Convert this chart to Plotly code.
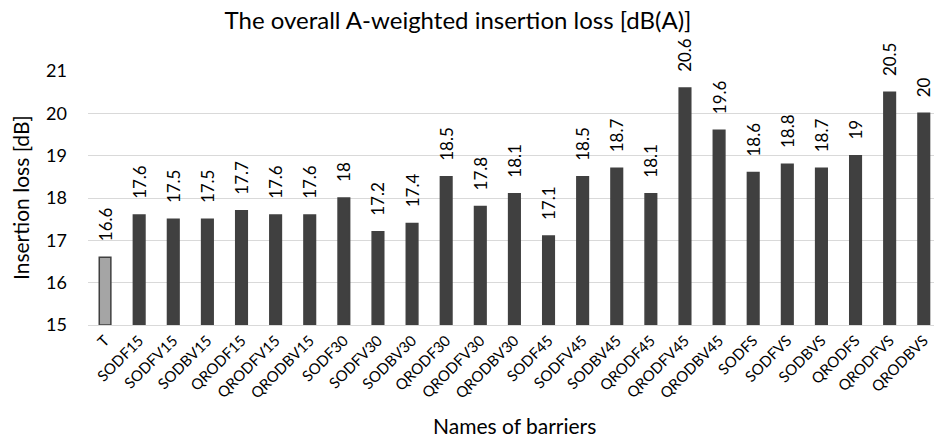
import plotly.graph_objects as go

categories = ["T", "SODF15", "SODFV15", "SODBV15", "QRODF15", "QRODFV15", "QRODBV15",
              "SODF30", "SODFV30", "SODBV30", "QRODF30", "QRODFV30", "QRODBV30",
              "SODF45", "SODFV45", "SODBV45", "QRODF45", "QRODFV45", "QRODBV45",
              "SODFS", "SODFVS", "SODBVS", "QRODFS", "QRODFVS", "QRODBVS"]
values = [16.6, 17.6, 17.5, 17.5, 17.7, 17.6, 17.6,
          18.0, 17.2, 17.4, 18.5, 17.8, 18.1,
          17.1, 18.5, 18.7, 18.1, 20.6, 19.6,
          18.6, 18.8, 18.7, 19.0, 20.5, 20.0]
labels = ["16.6", "17.6", "17.5", "17.5", "17.7", "17.6", "17.6",
          "18", "17.2", "17.4", "18.5", "17.8", "18.1",
          "17.1", "18.5", "18.7", "18.1", "20.6", "19.6",
          "18.6", "18.8", "18.7", "19", "20.5", "20"]
y_ticks = [15, 16, 17, 18, 19, 20, 21]
BASE = 15

FONT = "Lato"
colors = ["#A5A5A5"] + ["#404040"] * (len(categories) - 1)

fig = go.Figure()
fig.add_trace(go.Bar(
    x=categories, y=[v - BASE for v in values], base=BASE,
    marker=dict(color=colors, line=dict(color="#404040", width=1.5)),
    text=labels, texttemplate="\u00a0\u00a0\u00a0%{text}",
    textposition="outside", textangle=-90,
    constraintext="none",
    textfont=dict(family=FONT, size=17, color="#000000"),
    cliponaxis=False, hoverinfo="skip",
))

fig.update_layout(
    width=934, height=441,
    margin=dict(l=88, r=0, t=71, b=116, autoexpand=False),
    paper_bgcolor="white", plot_bgcolor="white",
    bargap=0.66,
    showlegend=False,
    font=dict(family=FONT, color="#000000"),
    title=dict(text="The overall A-weighted insertion loss [dB(A)]",
               x=458 / 934, xanchor="center", y=1 - 21 / 441, yanchor="middle",
               font=dict(family=FONT, size=24, color="#000000")),
)
fig.update_xaxes(
    type="category", range=[-0.5, 24.3], automargin=False,
    tickangle=-45, tickfont=dict(family=FONT, size=15, color="#000000"),
    showline=True, linecolor="#D9D9D9", linewidth=1,
    showgrid=False, ticks="",
)
fig.update_yaxes(
    range=[15, 21], tickvals=y_ticks, ticktext=[str(t) for t in y_ticks],
    automargin=False,
    tickfont=dict(family=FONT, size=18, color="#000000"),
    showgrid=True, gridcolor="#D9D9D9", gridwidth=1,
    zeroline=False, showline=False, ticks="",
    ticklabelstandoff=20,
)
fig.add_annotation(text="Names of barriers", xref="paper", yref="paper",
                   x=(514 - 88) / (934 - 88), y=-(425 - 325) / 254,
                   xanchor="center", yanchor="middle", showarrow=False,
                   font=dict(family=FONT, size=21, color="#000000"))
fig.add_annotation(text="Insertion loss [dB]", xref="paper", yref="paper",
                   x=-(88 - 20) / (934 - 88), y=(325 - 198) / 254,
                   xanchor="center", yanchor="middle", showarrow=False, textangle=-90,
                   font=dict(family=FONT, size=21, color="#000000"))
fig.write_html("out.html", config={"displayModeBar": False},
               post_script="document.body.style.margin='0';document.body.style.overflow='hidden';")
